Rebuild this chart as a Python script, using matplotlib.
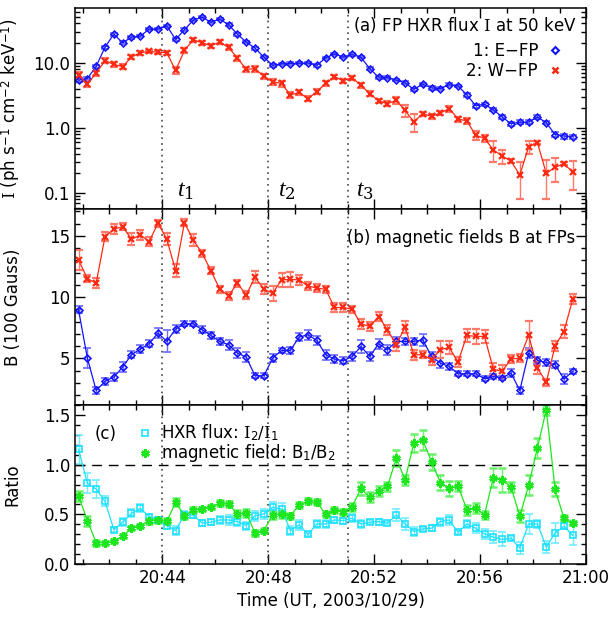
import numpy as np
import pandas as pd
import matplotlib
matplotlib.use('Agg')
import matplotlib.pyplot as plt
import matplotlib.dates as mdates
from matplotlib.lines import Line2D
from matplotlib.ticker import LogLocator, FuncFormatter, NullFormatter, MultipleLocator

plt.rcParams['font.family'] = ['DejaVu Sans']
plt.rcParams['font.size'] = 12
plt.rcParams['mathtext.fontset'] = 'custom'
plt.rcParams['mathtext.rm'] = 'DejaVu Serif'
plt.rcParams['mathtext.it'] = 'Liberation Serif:italic'
plt.rcParams['mathtext.sf'] = 'DejaVu Sans'
plt.rcParams['axes.linewidth'] = 1.1

# 20 s cadence, 20:40:50 .. 20:59:30 UT
t = pd.date_range('2003-10-29 20:40:50', periods=57, freq='20s')

# (a) HXR flux at 50 keV
flux_E = [5.4, 5.7, 8.8, 17.3, 27.4, 20.2, 24.6, 25.6, 32.7, 32.7,
          36.8, 22.7, 32.0, 44.9, 49.9, 41.9, 46.6, 38.2, 27.4, 20.7,
          16.7, 12.2, 9.1, 9.6, 9.7, 9.8, 9.9, 9.1, 11.9, 13.6,
          12.2, 13.4, 12.1, 8.1, 6.0, 5.9, 5.4, 4.9, 3.9, 4.7,
          4.1, 4.0, 4.6, 4.4, 3.2, 2.2, 2.3, 1.9, 1.47, 1.16,
          1.22, 1.23, 1.47, 1.2, 0.79, 0.75, 0.73]
flux_E_err = [0.4, 0.3, 0.5, 0.9, 1.3, 1.0, 1.2, 1.2, 1.5, 1.5,
              1.7, 1.2, 1.5, 2.0, 2.2, 1.9, 2.1, 1.8, 1.3, 1.0,
              0.8, 0.6, 0.4, 0.4, 0.4, 0.4, 0.4, 0.4, 0.5, 0.6,
              0.5, 0.6, 0.5, 0.35, 0.3, 0.3, 0.25, 0.25, 0.25, 0.25,
              0.25, 0.25, 0.25, 0.2, 0.2, 0.15, 0.15, 0.1, 0.1, 0.08,
              0.08, 0.1, 0.1, 0.06, 0.07, 0.07, 0.06]
flux_W = [6.4, 4.7, 6.9, 10.8, 9.4, 8.7, 12.2, 14.2, 14.9, 14.5,
          14.2, 7.6, 15.4, 22.5, 20.2, 18.2, 20.7, 17.1, 11.8, 7.9,
          8.1, 6.2, 5.1, 4.8, 3.2, 3.5, 2.8, 3.6, 4.8, 6.1,
          5.3, 5.9, 4.5, 3.35, 2.6, 2.35, 2.65, 1.86, 1.23, 1.66,
          1.5, 1.69, 1.98, 1.37, 1.28, 0.77, 0.69, 0.46, 0.37, 0.31,
          0.19, 0.51, 0.59, 0.20, 0.25, 0.28, 0.21]
flux_W_err = [0.7, 0.5, 0.6, 0.9, 0.8, 0.7, 0.9, 1.0, 1.0, 1.0,
              1.0, 0.9, 1.2, 1.6, 1.4, 1.3, 1.5, 1.5, 1.0, 0.8,
              0.8, 0.6, 0.5, 0.5, 0.35, 0.35, 0.25, 0.3, 0.4, 0.45,
              0.4, 0.45, 0.4, 0.3, 0.2, 0.2, 0.3, 0.4, 0.38, 0.12,
              0.12, 0.12, 0.2, 0.12, 0.15, 0.12, 0.09, 0.16, 0.09, 0.02,
              0.11, 0.11, 0.03, 0.12, 0.1, 0.015, 0.1]

# (b) magnetic fields at the footpoints (100 G)
B_E = [8.97, 5.03, 2.39, 3.13, 3.48, 4.3, 5.3, 5.77, 6.2, 7.07,
       6.39, 7.4, 7.83, 7.83, 7.34, 6.88, 6.39, 6.12, 5.44, 5.11,
       3.59, 3.59, 5.03, 5.65, 5.65, 6.75, 6.93, 6.47, 5.30, 4.95,
       4.81, 5.16, 5.98, 5.16, 6.2, 5.71, 6.39, 6.39, 6.39, 6.52,
       5.16, 4.62, 4.35, 3.75, 3.75, 3.75, 3.35, 3.53, 3.40, 3.81,
       2.39, 5.44, 4.84, 4.67, 4.49, 3.32, 3.94]
B_E_err = [0.3, 0.8, 0.3, 0.3, 0.3, 0.4, 0.3, 0.3, 0.3, 0.4,
           0.9, 0.3, 0.2, 0.2, 0.3, 0.3, 0.3, 0.4, 0.4, 0.4,
           0.2, 0.2, 0.3, 0.2, 0.3, 0.3, 0.4, 0.4, 0.4, 0.3,
           0.3, 0.4, 0.5, 0.4, 0.4, 0.4, 0.4, 0.3, 0.3, 0.5,
           0.4, 0.4, 0.3, 0.2, 0.2, 0.2, 0.2, 0.2, 0.2, 0.3,
           0.3, 0.4, 0.3, 0.3, 0.3, 0.4, 0.2]
B_W = [13.04, 11.52, 11.14, 14.95, 15.55, 15.76, 14.73, 15.08, 14.54, 16.03,
       14.73, 12.17, 16.09, 14.67, 13.59, 12.17, 10.65, 10.11, 11.14, 10.19,
       11.63, 10.65, 10.33, 11.41, 11.46, 11.41, 10.92, 10.74, 10.65, 9.16,
       9.16, 9.02, 7.83, 7.61, 8.42, 7.34, 6.12, 7.56, 5.30, 5.30,
       4.89, 5.71, 5.9, 4.71, 6.88, 6.8, 6.8, 4.13, 3.94, 4.95,
       5.03, 6.88, 4.22, 3.05, 6.04, 7.2, 9.84]
B_W_err = [0.8, 0.3, 0.4, 0.4, 0.4, 0.3, 0.5, 0.4, 0.4, 0.3,
           0.5, 0.5, 0.3, 0.5, 0.3, 0.3, 0.3, 0.3, 0.3, 0.3,
           0.5, 0.4, 0.6, 0.6, 0.6, 0.4, 0.3, 0.3, 0.3, 0.4,
           0.4, 0.3, 0.4, 0.4, 0.4, 0.4, 0.5, 0.5, 0.4, 0.3,
           0.4, 0.7, 0.5, 0.4, 0.5, 0.6, 0.5, 0.5, 0.5, 0.3,
           0.3, 1.2, 0.5, 0.3, 0.4, 0.5, 0.4]

# (c) ratios
ratio_I = [1.153, 0.813, 0.753, 0.63, 0.347, 0.42, 0.51, 0.56, 0.477, 0.447,
           0.387, 0.337, 0.493, 0.493, 0.413, 0.42, 0.443, 0.443, 0.427, 0.387,
           0.487, 0.503, 0.57, 0.553, 0.337, 0.393, 0.297, 0.403, 0.403, 0.443,
           0.437, 0.46, 0.403, 0.42, 0.427, 0.41, 0.493, 0.403, 0.327, 0.353,
           0.36, 0.427, 0.443, 0.32, 0.403, 0.36, 0.303, 0.27, 0.247, 0.26,
           0.16, 0.403, 0.403, 0.17, 0.313, 0.38, 0.287]
ratio_I_err = [0.15, 0.1, 0.09, 0.05, 0.03, 0.04, 0.04, 0.04, 0.03, 0.03,
               0.03, 0.05, 0.04, 0.03, 0.03, 0.03, 0.04, 0.05, 0.04, 0.04,
               0.05, 0.05, 0.05, 0.06, 0.05, 0.05, 0.02, 0.04, 0.04, 0.03,
               0.03, 0.04, 0.04, 0.02, 0.03, 0.02, 0.06, 0.06, 0.05, 0.02,
               0.03, 0.04, 0.05, 0.02, 0.04, 0.05, 0.05, 0.06, 0.07, 0.02,
               0.06, 0.1, 0.04, 0.06, 0.1, 0.03, 0.1]
ratio_B = [0.687, 0.437, 0.213, 0.213, 0.227, 0.28, 0.36, 0.387, 0.437, 0.443,
           0.43, 0.62, 0.487, 0.543, 0.553, 0.577, 0.61, 0.603, 0.503, 0.513,
           0.313, 0.337, 0.493, 0.503, 0.487, 0.593, 0.63, 0.62, 0.503, 0.547,
           0.527, 0.577, 0.76, 0.67, 0.737, 0.78, 1.063, 0.847, 1.22, 1.247,
           1.03, 0.82, 0.76, 0.787, 0.547, 0.563, 0.493, 0.87, 0.847, 0.777,
           0.48, 0.793, 1.17, 1.553, 0.753, 0.46, 0.41]
ratio_B_err = [0.05, 0.05, 0.03, 0.02, 0.02, 0.02, 0.02, 0.02, 0.03, 0.03,
               0.03, 0.04, 0.03, 0.03, 0.02, 0.02, 0.03, 0.03, 0.04, 0.04,
               0.03, 0.03, 0.04, 0.04, 0.03, 0.03, 0.03, 0.03, 0.03, 0.03,
               0.03, 0.04, 0.07, 0.05, 0.05, 0.05, 0.08, 0.05, 0.09, 0.1,
               0.08, 0.08, 0.08, 0.05, 0.05, 0.05, 0.04, 0.1, 0.12, 0.05,
               0.06, 0.1, 0.1, 0.05, 0.07, 0.03, 0.02]

# times marked with dotted lines
t_marks = pd.to_datetime(['2003-10-29 20:44:00', '2003-10-29 20:48:00', '2003-10-29 20:51:00'])
t_names = ['$t_1$', '$t_2$', '$t_3$']

blue, blue_e = '#1414ff', '#6a6aff'
red, red_e = '#ff2a14', '#ff7a6a'
cyan, cyan_e = '#1fe0ff', '#70ecff'
green, green_e = '#1ee61e', '#6af06a'
ast = (6, 2, 0)

fig = plt.figure(figsize=(6.16, 6.20), dpi=100)
L, W = 75 / 616, 511 / 616
ax1 = fig.add_axes([L, 1 - 209 / 620, W, 201 / 620])
ax2 = fig.add_axes([L, 1 - 405 / 620, W, 196 / 620])
ax3 = fig.add_axes([L, 1 - 564 / 620, W, 159 / 620])


def plot_series(ax, y, err, col, ecol, marker, ms, mfc='none', mew=1.2):
    ax.errorbar(t, y, yerr=err, color=col, ecolor=ecol, marker=marker, ms=ms,
                mfc=mfc, mec=col, mew=mew, lw=0.9, elinewidth=1.0,
                capsize=3, capthick=1.0)


plot_series(ax1, flux_E, flux_E_err, blue, blue_e, 'D', 3.5)
plot_series(ax1, flux_W, flux_W_err, red, red_e, 'x', 4.5, mew=1.6)
plot_series(ax2, B_E, B_E_err, blue, blue_e, 'D', 3.5)
plot_series(ax2, B_W, B_W_err, red, red_e, 'x', 4.5, mew=1.6)
plot_series(ax3, ratio_I, ratio_I_err, cyan, cyan_e, 's', 5)
plot_series(ax3, ratio_B, ratio_B_err, green, green_e, ast, 6, mew=1.8)
ax3.axhline(1.0, color='k', lw=1.0, ls=(0, (7, 5)))

for ax in (ax1, ax2, ax3):
    for tm in t_marks:
        ax.axvline(tm, color='#444444', lw=1.2, ls=(0, (1, 2.5)))
    ax.set_xlim(pd.Timestamp('2003-10-29 20:40:42'), pd.Timestamp('2003-10-29 21:00:00'))
    ax.xaxis.set_major_locator(mdates.MinuteLocator(byminute=range(0, 60, 4)))
    ax.xaxis.set_minor_locator(mdates.MinuteLocator())
    ax.xaxis.set_major_formatter(mdates.DateFormatter('%H:%M'))
    ax.tick_params(which='both', direction='in', top=True, right=True, width=1.0)
    ax.tick_params(which='major', length=7)
    ax.tick_params(which='minor', length=3.5)
    ax.yaxis.set_label_coords(-0.104, 0.5)

for ax in (ax1, ax2):
    ax.tick_params(labelbottom=False)

# panel (a)
ax1.set_yscale('log')
ax1.set_ylim(0.057, 69)
ax1.yaxis.set_major_locator(LogLocator(base=10))
ax1.yaxis.set_minor_locator(LogLocator(base=10, subs=range(2, 10)))
ax1.yaxis.set_major_formatter(FuncFormatter(lambda v, p: '%.1f' % v))
ax1.yaxis.set_minor_formatter(NullFormatter())
ax1.set_ylabel(r'$\mathrm{I}$ (ph s$^{\mathsf{-1}}$ cm$^{\mathsf{-2}}$ keV$^{\mathsf{-1}}$)')
ax1.text(0.982, 0.917, r'(a) FP HXR flux $\mathrm{I}$ at 50 keV', transform=ax1.transAxes,
         ha='right', va='center')
offs = [0.55, 0.35, 0.3]
for tm, nm, dx in zip(t_marks, t_names, offs):
    ax1.text(tm + pd.Timedelta(minutes=dx), 0.11, nm, fontsize=17, ha='left', va='center')
h1 = [Line2D([], [], color=blue, marker='D', ms=3.5, mfc='none', mew=1.5, ls='none'),
      Line2D([], [], color=red, marker='x', ms=4.5, mew=1.8, ls='none')]
ax1.legend(h1, ['1: E\u2212FP', '2: W\u2212FP'], loc='upper right', markerfirst=False,
           frameon=False, handlelength=0.8, handletextpad=0.6, labelspacing=0.15,
           borderaxespad=0, bbox_to_anchor=(0.965, 0.865))

# panel (b)
ax2.set_ylim(1.2, 17.2)
ax2.yaxis.set_major_locator(MultipleLocator(5))
ax2.yaxis.set_minor_locator(MultipleLocator(1))
ax2.set_ylabel('B (100 Gauss)')
ax2.text(0.978, 0.852, '(b) magnetic fields B at FPs', transform=ax2.transAxes,
         ha='right', va='center')

# panel (c)
ax3.set_ylim(0, 1.6)
ax3.yaxis.set_major_locator(MultipleLocator(0.5))
ax3.yaxis.set_minor_locator(MultipleLocator(0.1))
ax3.yaxis.set_major_formatter(FuncFormatter(lambda v, p: '%.1f' % v))
ax3.set_ylabel('Ratio')
ax3.set_xlabel('Time (UT, 2003/10/29)')
ax3.text(0.06, 0.82, '(c)', transform=ax3.transAxes, ha='center', va='center')
h3 = [Line2D([], [], color=cyan, marker='s', ms=5, mfc='none', mew=1.2, ls='none'),
      Line2D([], [], color=green, marker=ast, ms=6, mew=1.8, ls='none')]
ax3.legend(h3, [r'HXR flux: $\mathrm{I}_{\mathsf{2}}/\mathrm{I}_{\mathsf{1}}$',
                r'magnetic field: B$_{\mathsf{1}}$/B$_{\mathsf{2}}$'],
           loc='upper left', frameon=False, handlelength=0.8, handletextpad=0.6,
           labelspacing=-0.05, borderaxespad=0, bbox_to_anchor=(0.11, 0.93))

fig.savefig('out.png', dpi=100)
